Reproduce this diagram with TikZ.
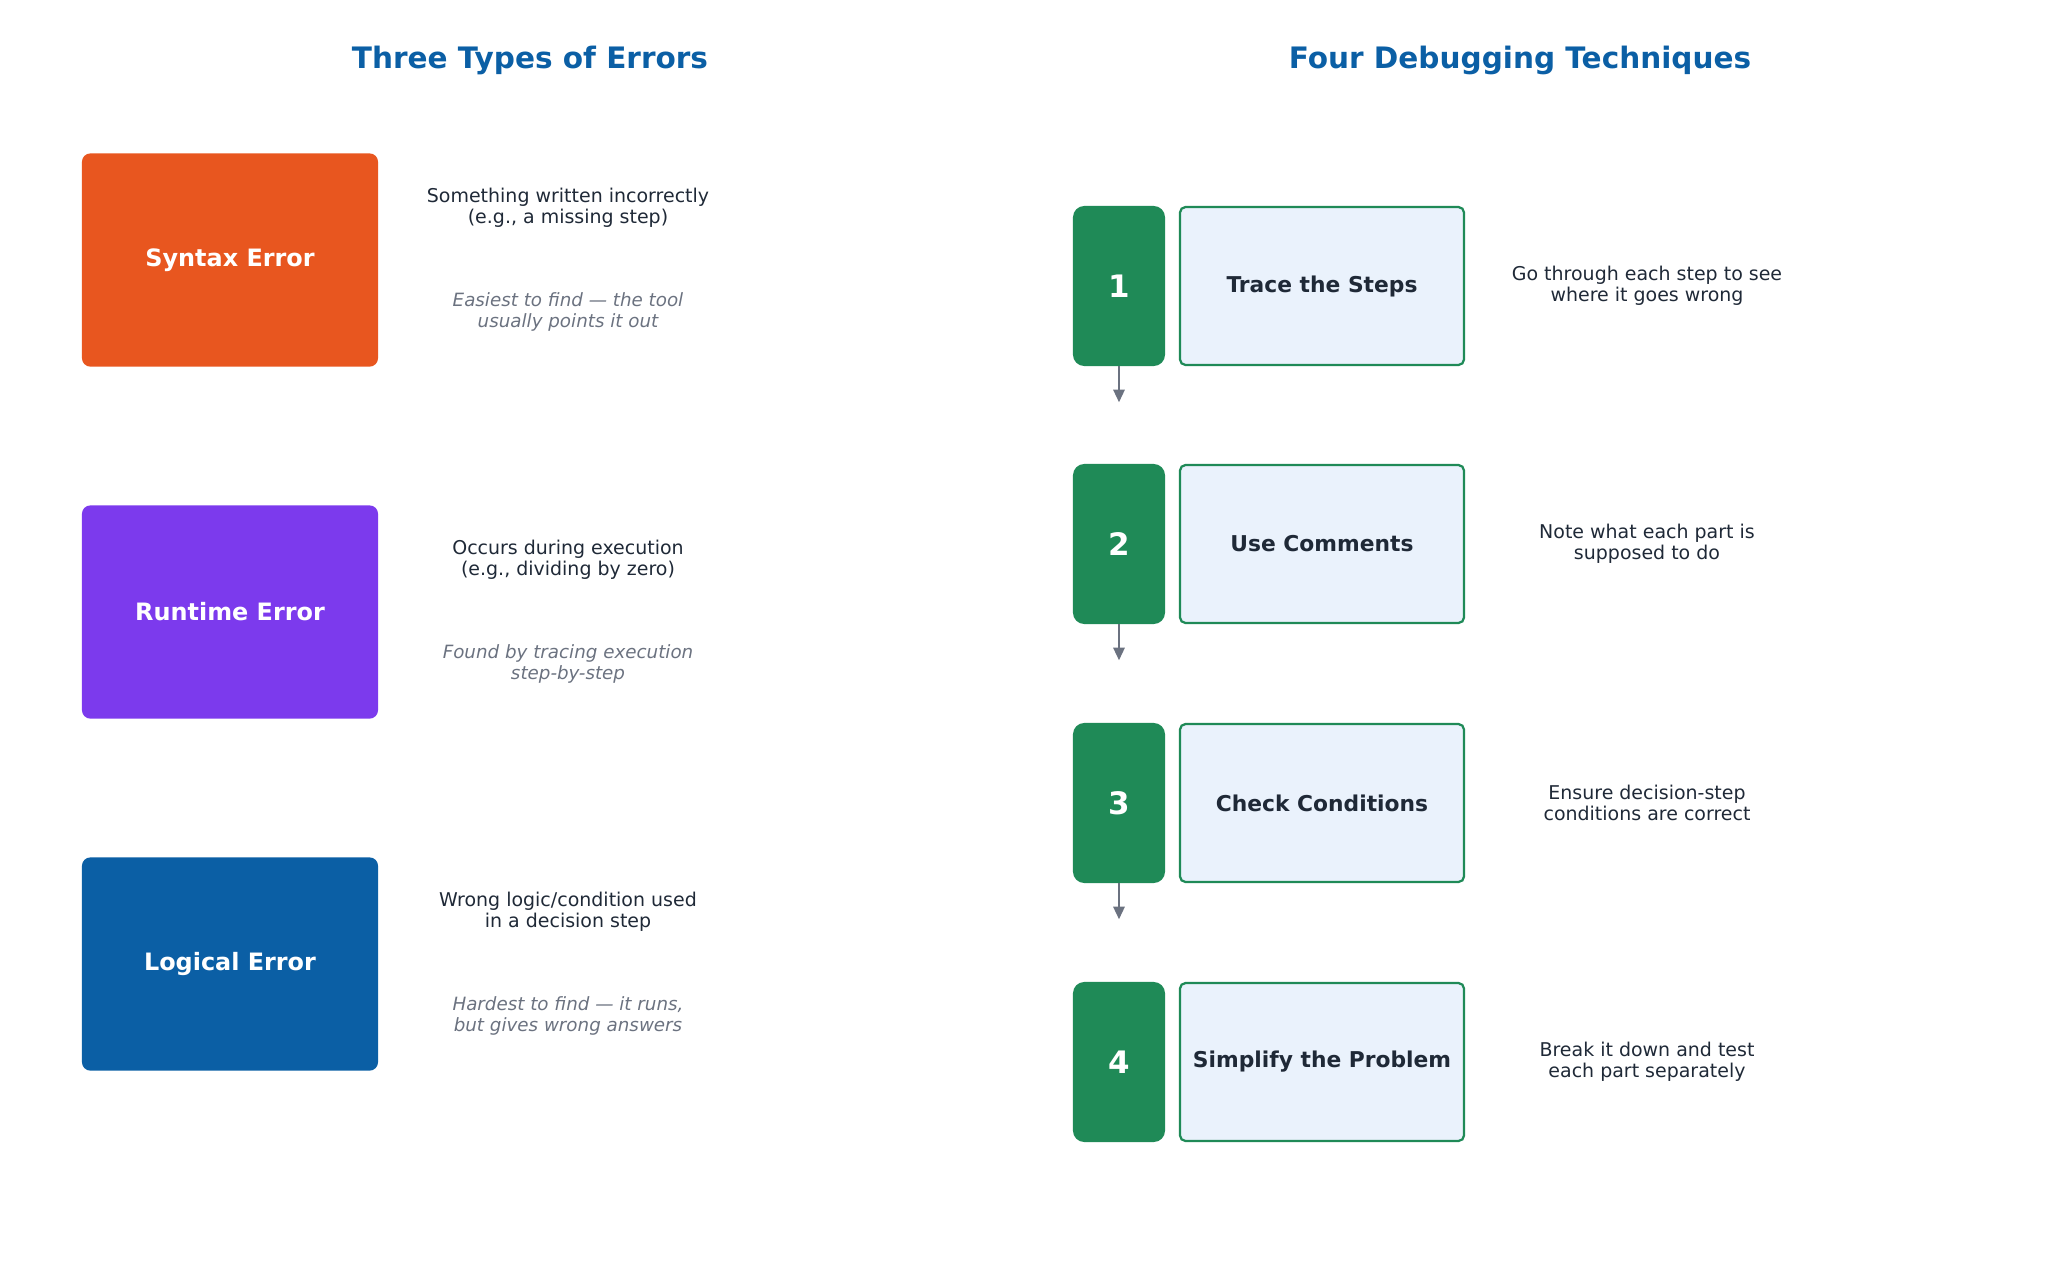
\documentclass[tikz,border=0pt]{standalone}
\usepackage{fontspec}
\setmainfont{DejaVu Sans}
\usepackage{xcolor}
\definecolor{ErrOrange}{HTML}{E8561F}
\definecolor{ErrPurple}{HTML}{7C3AED}
\definecolor{ErrBlue}{HTML}{0B5FA5}
\definecolor{StepGreen}{HTML}{1F8A57}
\definecolor{StepLight}{HTML}{EAF2FC}
\definecolor{TextDark}{HTML}{1F2937}
\definecolor{TextGrey}{HTML}{6B7280}
\usetikzlibrary{arrows.meta, positioning}

\begin{document}
\begin{tikzpicture}[
        x=0.025cm, y=-0.025cm,
        title/.style={font=\fontsize{21}{25}\selectfont\bfseries, text=ErrBlue},
        err/.style={rectangle, rounded corners=6pt, minimum width=7.4cm, minimum height=5.33cm, text=white, font=\fontsize{17}{20}\selectfont\bfseries},
        desc/.style={align=center, text=TextDark, font=\fontsize{13.5}{15}\selectfont},
        hint/.style={align=center, text=TextGrey, font=\fontsize{13}{15}\selectfont\itshape},
        num/.style={rectangle, rounded corners=8pt, fill=StepGreen, minimum width=2.3cm, minimum height=4cm, text=white, font=\fontsize{22}{26}\selectfont\bfseries},
        tech/.style={rectangle, rounded corners=4pt, draw=StepGreen, line width=1.6pt, fill=StepLight, minimum width=7.1cm, minimum height=3.95cm, text=TextDark, font=\fontsize{15.5}{18}\selectfont\bfseries},
        link/.style={-{Triangle[width=8pt,length=9pt]}, line width=1.6pt, color=TextGrey}
    ]
        \useasboundingbox (0,0) rectangle (2048,1278);

        % --- TITLES ---
        \node[title] (t1) at (530,60) {Three Types of Errors};
        \node[title] (t2) at (1520,60) {Four Debugging Techniques};

        % --- ERRORS ---
        \node[err, fill=ErrOrange] (syn) at (230,260) {Syntax Error};
        \node[desc] (synD) at (568,208) {Something written incorrectly\\(e.g., a missing step)};
        \node[hint] (synH) at (568,312) {Easiest to find — the tool\\usually points it out};

        \node[err, fill=ErrPurple] (run) at (230,612) {Runtime Error};
        \node[desc] (runD) at (568,560) {Occurs during execution\\(e.g., dividing by zero)};
        \node[hint] (runH) at (568,664) {Found by tracing execution\\step-by-step};

        \node[err, fill=ErrBlue] (log) at (230,964) {Logical Error};
        \node[desc] (logD) at (568,912) {Wrong logic/condition used\\in a decision step};
        \node[hint] (logH) at (568,1016) {Hardest to find — it runs,\\but gives wrong answers};

        % --- TECHNIQUES ---
        \foreach \i/\y/\name/\txt in {1/286/Trace the Steps/{Go through each step to see\\where it goes wrong},
                                      2/544/Use Comments/{Note what each part is\\supposed to do},
                                      3/803/Check Conditions/{Ensure decision-step\\conditions are correct},
                                      4/1062/Simplify the Problem/{Break it down and test\\each part separately}} {
            \node[num] (n\i) at (1119,\y) {\i};
            \node[tech] (s\i) at (1322,\y) {\name};
            \node[desc] (d\i) at (1647,\y) {\txt};
        }

        % --- ARROWS ---
        \foreach \i in {1,2,3} {
            \coordinate (a\i) at ([yshift=-0.9cm]n\i.south);
            \draw[link] (n\i.south) -- (a\i);
        }

    \end{tikzpicture}
\end{document}
